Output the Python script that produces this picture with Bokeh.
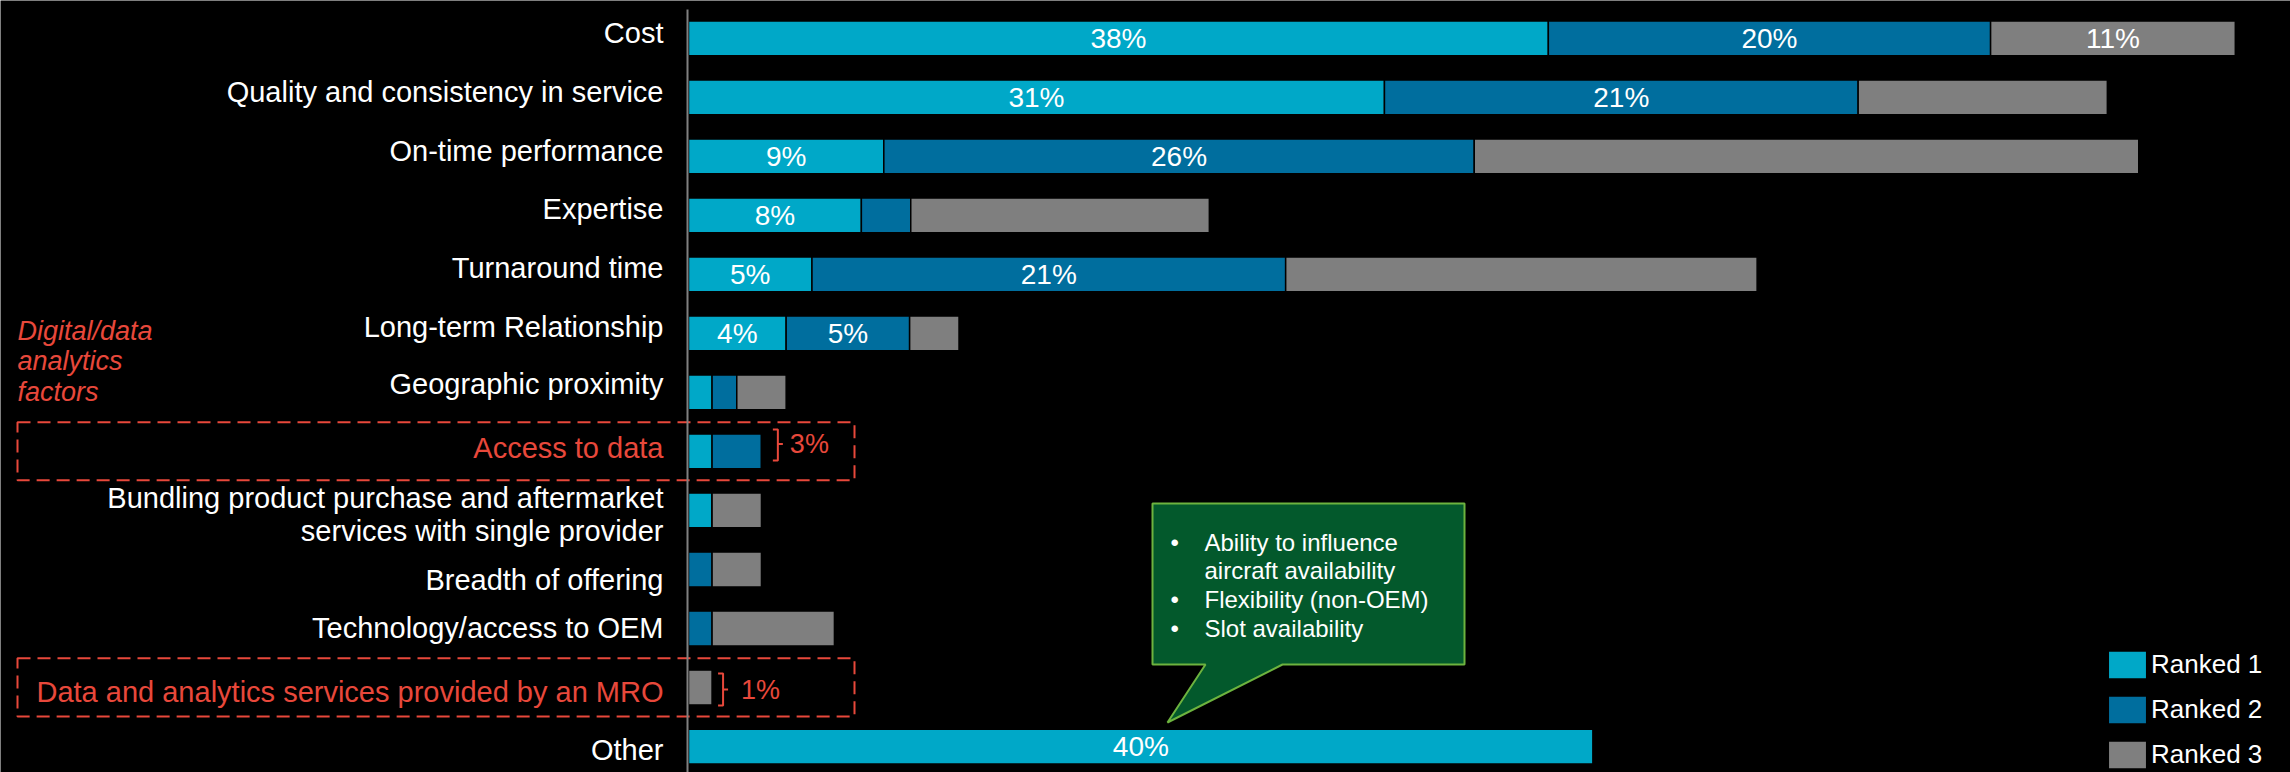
import numpy as np
from bokeh.plotting import figure
from bokeh.models import ColumnDataSource, Range1d
from bokeh.core.properties import value
from bokeh.embed import file_html
from bokeh.resources import INLINE

# ---------------- data ----------------
categories = [
    "Cost",
    "Quality and consistency in service",
    "On-time performance",
    "Expertise",
    "Turnaround time",
    "Long-term Relationship",
    "Geographic proximity",
    "Access to data",
    "Bundling product purchase and aftermarket\nservices with single provider",
    "Breadth of offering",
    "Technology/access to OEM",
    "Data and analytics services provided by an MRO",
    "Other",
]
ranked1 = [38.3, 31.0, 8.7, 7.7, 5.5, 4.35, 1.05, 1.05, 1.05, 0.0, 0.0, 0.0, 40.3]
ranked2 = [19.7, 21.1, 26.3, 2.2, 21.1, 5.5, 1.1, 2.2, 0.0, 1.05, 1.05, 0.0, 0.0]
ranked3 = [10.9, 11.1, 29.6, 13.3, 21.0, 2.2, 2.2, 0.0, 2.2, 2.2, 5.45, 1.05, 0.0]
labels1 = ["38%", "31%", "9%", "8%", "5%", "4%", "", "", "", "", "", "", "40%"]
labels2 = ["20%", "21%", "26%", "", "21%", "5%", "", "", "", "", "", "", ""]
labels3 = ["11%", "", "", "", "", "", "", "", "", "", "", "", ""]
series_names = ["Ranked 1", "Ranked 2", "Ranked 3"]
highlighted = ["Access to data", "Data and analytics services provided by an MRO"]
highlight_totals = ["3%", "1%"]
side_note = "Digital/data\nanalytics\nfactors"
callout_lines = ["Ability to influence", "aircraft availability", "Flexibility (non-OEM)", "Slot availability"]
callout_bullets = ["\u2022", "", "\u2022", "\u2022"]

# ---------------- style ----------------
C1, C2, C3 = "#00A8C8", "#006E9E", "#7F7F7F"
RED = "#E8483B"
FONT = value("Liberation Sans")
W, H = 2290, 772

# layout helpers (pixel -> data)
S = 22.45      # px per percent
AX = 688.0     # px of the zero line
R0 = 37.8      # px of first row centre
RP = 59.02     # px per row


def dx(px):
    return (px - AX) / S


def dy(py):
    return (py - R0) / RP


rows = list(range(len(categories)))
r1 = np.array(ranked1)
r2 = np.array(ranked2)
r3 = np.array(ranked3)
totals = r1 + r2 + r3

p = figure(width=W, height=H, x_range=Range1d(dx(0), dx(W)), y_range=Range1d(dy(H), dy(0)),
           output_backend="svg", toolbar_location=None, min_border=0,
           background_fill_color="black", border_fill_color="black", outline_line_color=None)
p.axis.visible = False
p.grid.visible = False

# dashed highlight boxes
hl_rows = [categories.index(c) for c in highlighted]
p.quad(left=[dx(17)] * 2, right=[dx(854)] * 2,
       top=[r - 0.495 for r in hl_rows], bottom=[r + 0.49 for r in hl_rows],
       fill_alpha=0, line_color=RED, line_width=2, line_dash="13 7")

src = ColumnDataSource(dict(row=rows, r1=ranked1, r2=ranked2, r3=ranked3))
p.hbar_stack(["r1", "r2", "r3"], y="row", height=0.59, color=[C1, C2, C3],
             line_color="black", line_width=1.5, source=src, legend_label=series_names)

# axis line
p.segment(x0=[dx(687)], y0=[dy(9)], x1=[dx(687)], y1=[dy(H)], line_color="#808080", line_width=2)

# value labels inside bars
lx, ly, lt = [], [], []
for i in rows:
    for val, left, lab in ((r1[i], 0.0, labels1[i]), (r2[i], r1[i], labels2[i]), (r3[i], r1[i] + r2[i], labels3[i])):
        if lab:
            lx.append(left + val / 2)
            ly.append(i)
            lt.append(lab)
p.text(x=lx, y=ly, text=lt, text_color="white", text_font=FONT, text_font_size="28px",
       text_align="center", text_baseline="middle")

# category labels
cat_colors = [RED if c in highlighted else "white" for c in categories]
cat_off = [-5.5, -5, -5.5, -6, -6, -6.5, -8, -3.5, 4, 10.5, -1, 4, 3.5]
p.text(x=[0] * len(rows), y=rows, text=categories, text_color=cat_colors, text_font=FONT,
       text_font_size="29px", text_align="right", text_baseline="middle",
       x_offset=-25, y_offset=cat_off, text_line_height=1.02)

# side note
p.text(x=[dx(17)], y=[dy(361)], text=[side_note], text_color=RED, text_font=FONT,
       text_font_size="27px", text_font_style="italic", text_align="left",
       text_baseline="middle", text_line_height=1.03)

# brackets and totals for highlighted rows
bracket_gap = (11.4, 6)          # px between bar end and bracket
bracket_v = ((-22, -7.5, 9), (-14, 2, 18))   # px: top, middle, bottom relative to row centre
text_gap = (12, 18)
for r, lab, gap, (bt, bm, bb), tgap in zip(hl_rows, highlight_totals, bracket_gap, bracket_v, text_gap):
    x0 = totals[r] + gap / S
    xv = x0 + 5 / S
    xt = xv + 5 / S
    top, mid, bot = r + bt / RP, r + bm / RP, r + bb / RP
    p.line(x=[x0, xv, xv, xt, xv, xv, x0], y=[top, top, mid, mid, mid, bot, bot],
           line_color=RED, line_width=2)
    p.text(x=[xv + tgap / S], y=[mid], text=[lab], text_color=RED, text_font=FONT,
           text_font_size="27px", text_align="left", text_baseline="middle")

# callout
cx = [dx(v) for v in (1152, 1464, 1464, 1282, 1167, 1205, 1152)]
cy = [dy(v) for v in (503, 503, 664, 664, 722, 664, 664)]
p.patch(cx, cy, fill_color="#03592C", line_color="#6DB33F", line_width=2)
line_y = [dy(v) for v in (542, 570, 599, 628)]
p.text(x=[dx(1170)] * 4, y=line_y, text=callout_bullets, text_color="white", text_font=FONT,
       text_font_size="24px", text_align="left", text_baseline="middle")
p.text(x=[dx(1204)] * 4, y=line_y, text=callout_lines, text_color="white", text_font=FONT,
       text_font_size="24px", text_align="left", text_baseline="middle")

# legend
leg = p.legend[0]
leg.location = (2103, 0)
leg.background_fill_alpha = 0
leg.border_line_color = None
leg.label_text_color = "white"
leg.label_text_font = "Liberation Sans"
leg.label_text_font_size = "26px"
leg.glyph_width = 48
leg.glyph_height = 35
leg.label_height = 35
leg.spacing = 10
leg.padding = 0
leg.margin = 0
leg.label_standoff = 0

open("out.html", "w").write(file_html(p, INLINE))
